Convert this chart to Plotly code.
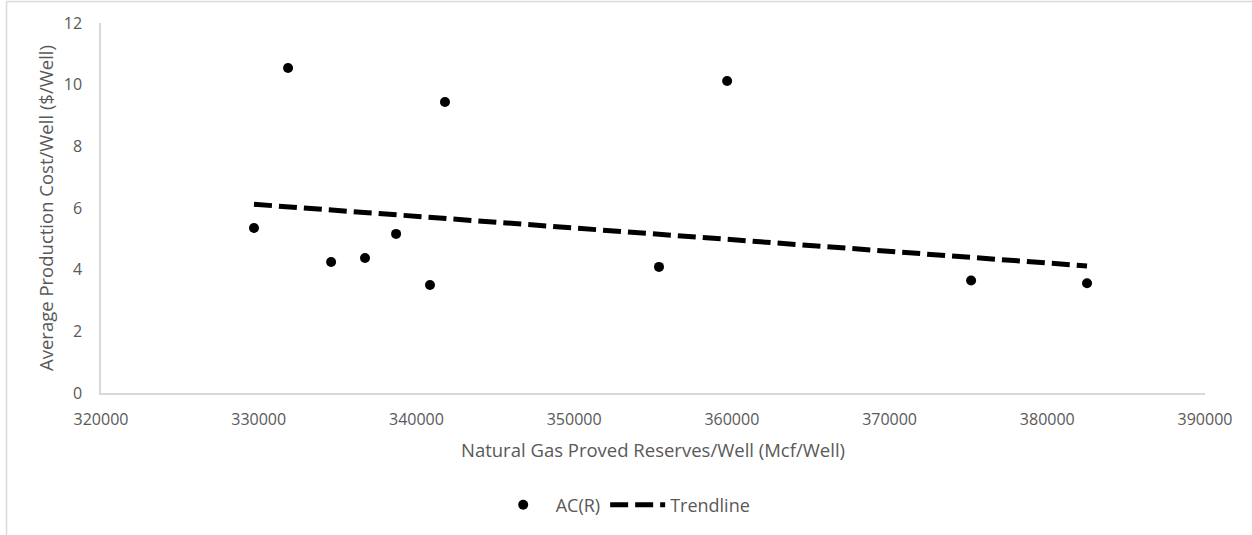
import plotly.graph_objects as go

# Data
reserves = [329700, 331860, 334590, 336740, 338710, 340860, 341810, 355380, 359700, 375170, 382520]
cost = [5.35, 10.54, 4.25, 4.38, 5.16, 3.50, 9.44, 4.09, 10.12, 3.65, 3.56]

trend_x = [329700, 382520]
trend_y = [6.12, 4.12]

x_ticks = [320000, 330000, 340000, 350000, 360000, 370000, 380000, 390000]
y_ticks = [0, 2, 4, 6, 8, 10, 12]

GRAY = "#595959"
FONT = "Open Sans"


def px_x(p):
    return (p - 101) / 1104


def px_y(p):
    return (393 - p) / 370


fig = go.Figure()
fig.add_trace(go.Scatter(
    x=reserves, y=cost, mode="markers", name="AC(R)",
    marker=dict(color="black", size=10),
))
fig.add_trace(go.Scatter(
    x=trend_x, y=trend_y, mode="lines", name="Trendline",
    line=dict(color="black", width=5, dash="18px,7px"),
))

fig.update_layout(
    width=1252, height=535,
    margin=dict(l=101, r=47, t=23, b=142),
    paper_bgcolor="white", plot_bgcolor="white",
    font=dict(family=FONT, size=16, color=GRAY),
    showlegend=True,
    legend=dict(
        orientation="h", x=0.473, xanchor="center", y=px_y(505), yanchor="middle",
        font=dict(family=FONT, size=18, color=GRAY),
        bgcolor="rgba(0,0,0,0)",
        itemwidth=55,
    ),
    xaxis=dict(
        range=[320000, 390000], tickvals=x_ticks,
        ticktext=[str(v) for v in x_ticks],
        showgrid=False, zeroline=False,
        showline=True, linecolor="#D9D9D9", linewidth=1.5,
        ticks="", tickfont=dict(size=16, color=GRAY),
        ticklabelstandoff=11,
        title=dict(text="Natural Gas Proved Reserves/Well (Mcf/Well)",
                   font=dict(size=18.5, color=GRAY), standoff=15),
    ),
    yaxis=dict(
        range=[0, 12], tickvals=y_ticks,
        showgrid=False, zeroline=False,
        showline=True, linecolor="#D9D9D9", linewidth=1.5,
        ticks="", tickfont=dict(size=16, color=GRAY),
        ticklabelstandoff=14,
        title=dict(text="Average Production Cost/Well ($/Well)",
                   font=dict(size=18.5, color=GRAY), standoff=5),
    ),
    shapes=[
        dict(type="line", xref="paper", yref="paper",
             x0=px_x(6.5), x1=px_x(1252), y0=px_y(1.5), y1=px_y(1.5),
             line=dict(color="#D9D9D9", width=1.5)),
        dict(type="line", xref="paper", yref="paper",
             x0=px_x(6.5), x1=px_x(6.5), y0=px_y(1.5), y1=px_y(535),
             line=dict(color="#D9D9D9", width=1.5)),
    ],
)

fig.write_html("out.html")
